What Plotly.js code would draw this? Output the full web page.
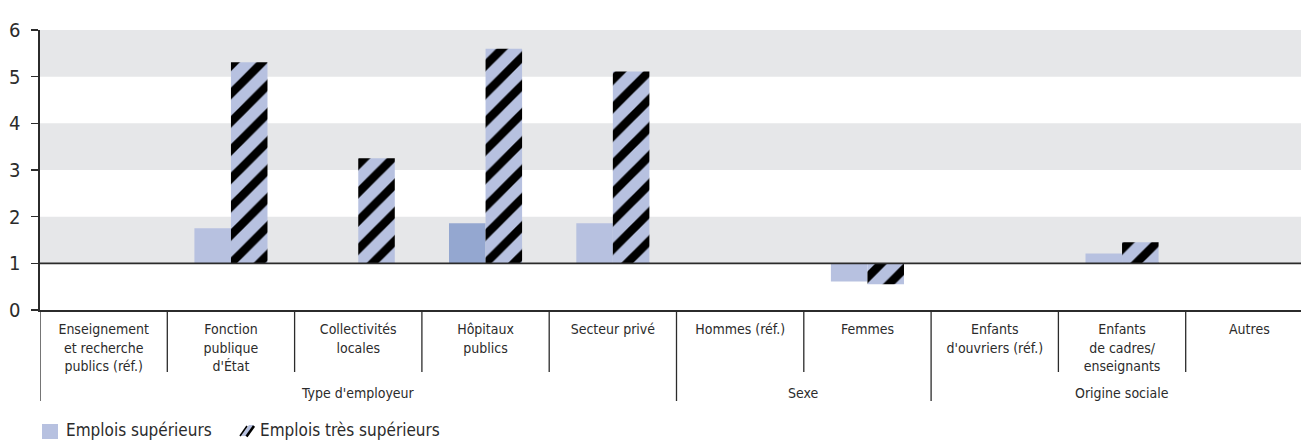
<!DOCTYPE html>
<html><head><meta charset="utf-8">
<script src="https://cdn.plot.ly/plotly-3.0.1.min.js"></script>
<style>html,body{margin:0;padding:0;background:#fff;overflow:hidden}</style>
</head><body><div id="chart" style="width:1301px;height:441px"></div>
<script>
// ---- data ----
const categories = ["Enseignement<br>et recherche<br>publics (réf.)", "Fonction<br>publique<br>d'État", "Collectivités<br>locales", "Hôpitaux<br>publics", "Secteur privé", "Hommes (réf.)", "Femmes", "Enfants<br>d'ouvriers (réf.)", "Enfants<br>de cadres/<br>enseignants", "Autres"];
const groups = ["Type d'employeur", "Sexe", "Origine sociale"];
const groupSizes = [5, 2, 3];
const emploisSuperieurs = [null, 1.75, null, 1.86, 1.86, null, 0.61, null, 1.21, null];
const emploisTresSuperieurs = [null, 5.31, 3.25, 5.60, 5.11, null, 0.55, null, 1.45, null];
const seriesNames = ["Emplois supérieurs", "Emplois très supérieurs"];
const yTicks = [0, 1, 2, 3, 4, 5, 6];
const reference = 1;

// ---- styles ----
const FONT = "Liberation Sans Narrow, Arial Narrow, DejaVu Sans Condensed, sans-serif";
const LIGHT = "#b7c1e0", DARK = "#94a7d0", BAND = "#e6e7e9", INK = "#2b2b2b";
const W = 1301, H = 441, ML = 40, MT = 30, MB = 131;
const PW = W - ML, PH = H - MT - MB;
const px2x = p => (p - ML) / PW;
const py2y = p => (H - MB - p) / PH;

const xIdx = categories.map((_, i) => i);
const supColors = emploisSuperieurs.map((_, i) => i === 3 ? DARK : LIGHT);

const traces = [
  {
    type: "bar", name: seriesNames[0], x: xIdx,
    y: emploisSuperieurs.map(v => v == null ? null : v - reference),
    base: reference,
    marker: {color: supColors, line: {width: 0}},
    hoverinfo: "skip", showlegend: false
  },
  {
    type: "bar", name: seriesNames[1], x: xIdx,
    y: emploisTresSuperieurs.map(v => v == null ? null : v - reference),
    base: reference,
    marker: {color: LIGHT, line: {width: 0},
      pattern: {shape: "/", fgcolor: "#000", bgcolor: LIGHT, fgopacity: 1, size: 20, solidity: 0.42, fillmode: "replace"}},
    hoverinfo: "skip", showlegend: false
  }
];

const shapes = [];
// alternating bands
for (let k = 1; k < 6; k += 2) {
  shapes.push({type: "rect", xref: "paper", yref: "y", x0: 0, x1: 1, y0: k, y1: k + 1,
    fillcolor: BAND, line: {width: 0}, layer: "below"});
}
// reference line
shapes.push({type: "line", xref: "paper", yref: "y", x0: 0, x1: 1, y0: reference, y1: reference,
  line: {color: INK, width: 1.6}, layer: "above"});
// category separators
const groupEnds = [];
let acc = 0;
groupSizes.forEach(s => { acc += s; groupEnds.push(acc); });
for (let i = 0; i < categories.length; i++) {
  const isGroupStart = i === 0 || groupEnds.includes(i);
  shapes.push({type: "line", xref: "x", yref: "paper", x0: i - 0.5, x1: i - 0.5,
    y0: 0, y1: isGroupStart ? py2y(401) : py2y(372), line: {color: INK, width: 1.3}});
}
// legend swatches
shapes.push({type: "rect", xref: "paper", yref: "paper", x0: px2x(42), x1: px2x(58), y0: py2y(439), y1: py2y(424),
  fillcolor: LIGHT, line: {width: 0}});
shapes.push({type: "path", xref: "paper", yref: "paper",
  path: `M${px2x(241)},${py2y(436)} L${px2x(249)},${py2y(425)} L${px2x(254)},${py2y(425)} L${px2x(246)},${py2y(436)} Z`,
  fillcolor: LIGHT, line: {width: 0}});
shapes.push({type: "line", xref: "paper", yref: "paper", x0: px2x(240), x1: px2x(247), y0: py2y(436), y1: py2y(426),
  line: {color: "#000", width: 1.6}});
shapes.push({type: "line", xref: "paper", yref: "paper", x0: px2x(246.5), x1: px2x(254), y0: py2y(436.5), y1: py2y(426),
  line: {color: "#000", width: 2.6}});

const annotations = [];
let start = 0;
groups.forEach((g, gi) => {
  const center = start + (groupSizes[gi] - 1) / 2;
  annotations.push({xref: "x", yref: "paper", x: center, y: py2y(393), text: g, showarrow: false,
    xanchor: "center", yanchor: "middle", font: {family: FONT, size: 14, color: INK}});
  start += groupSizes[gi];
});
annotations.push({xref: "paper", yref: "paper", x: px2x(64), y: py2y(430), text: seriesNames[0], showarrow: false,
  xanchor: "left", yanchor: "middle", font: {family: FONT, size: 17, color: INK}});
annotations.push({xref: "paper", yref: "paper", x: px2x(258), y: py2y(430), text: seriesNames[1], showarrow: false,
  xanchor: "left", yanchor: "middle", font: {family: FONT, size: 17, color: INK}});

const catW = 127.3;
const layout = {
  width: W, height: H,
  margin: {l: ML, r: 0, t: MT, b: MB, pad: 0},
  paper_bgcolor: "#fff", plot_bgcolor: "rgba(0,0,0,0)",
  barmode: "group", bargap: 0.426, bargroupgap: 0,
  showlegend: false,
  font: {family: FONT, color: INK},
  xaxis: {
    range: [-0.5, -0.5 + PW / catW], tickmode: "array", tickvals: xIdx, ticktext: categories,
    ticks: "", showgrid: false, zeroline: false, showline: true, linecolor: INK, linewidth: 1.6,
    tickfont: {family: FONT, size: 14, color: INK}, fixedrange: true, ticklabelstandoff: 6
  },
  yaxis: {
    range: [0, 6], tickmode: "array", tickvals: yTicks, ticks: "outside", ticklen: 7, tickwidth: 1.4,
    tickcolor: INK, showgrid: false, zeroline: false, showline: true, linecolor: INK, linewidth: 1.6,
    tickfont: {family: FONT, size: 20, color: INK}, fixedrange: true, ticklabelstandoff: 7
  },
  shapes: shapes,
  annotations: annotations
};

Plotly.newPlot("chart", traces, layout, {staticPlot: true, displayModeBar: false});
</script>
</body></html>
